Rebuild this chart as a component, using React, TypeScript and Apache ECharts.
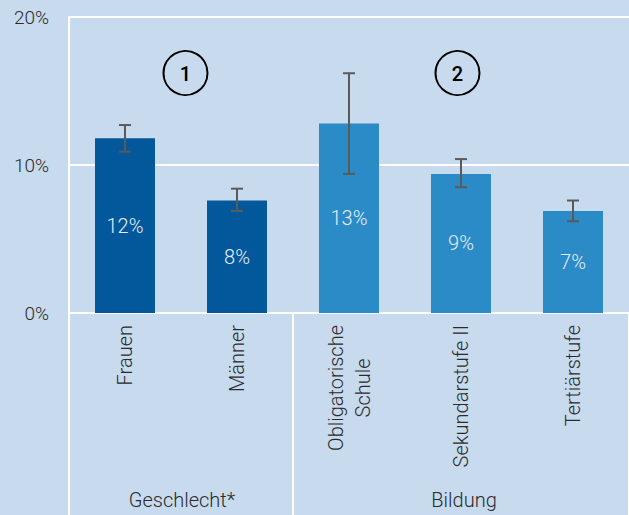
import React, { useEffect, useRef } from "react";
import * as echarts from "echarts";

const categories = ["Frauen", "Männer", "Obligatorische\nSchule", "Sekundarstufe II", "Tertiärstufe"];
const values = [11.8, 7.6, 12.8, 9.4, 6.9];
const labels = ["12%", "8%", "13%", "9%", "7%"];
const errLow = [10.9, 6.9, 9.4, 8.5, 6.2];
const errHigh = [12.7, 8.4, 16.2, 10.4, 7.6];
const barColors = ["#02589a", "#02589a", "#2b8bc7", "#2b8bc7", "#2b8bc7"];
const groupLabels = ["Geschlecht*", "Bildung"];
const markers = ["1", "2"];
const yTicks = { min: 0, max: 20, interval: 10 };

const BG = "#c8dbee";
const FONT = "Roboto";

export default function App() {
  const ref = useRef<HTMLDivElement>(null);
  useEffect(() => {
    if (!ref.current) return;
    const chart = echarts.init(ref.current, undefined, { renderer: "svg" });
    const option: any = {
      animation: false,
      backgroundColor: BG,
      textStyle: { fontFamily: FONT },
      grid: { left: 69, top: 17, width: 565, bottom: 202, containLabel: false },
      xAxis: {
        type: "category",
        data: categories,
        axisLine: { show: true, lineStyle: { color: "#ffffff", width: 2 } },
        axisTick: {
          show: true,
          interval: (i: number) => i === 0 || i === 2,
          length: 205,
          lineStyle: { color: "#ffffff", width: 2 },
        },
        axisLabel: {
          rotate: 90,
          margin: 12,
          interval: 0,
          color: "#2a2a2a",
          fontSize: 20,
          fontWeight: 300,
          fontFamily: FONT,
          lineHeight: 27,
          formatter: (v: string) =>
            v
              .split("\n")
              .map((s) => "{c|" + s + "}")
              .join("\n"),
          rich: {
            c: { align: "center", fontSize: 20, fontWeight: 300, color: "#2a2a2a", fontFamily: FONT, lineHeight: 27 },
          },
        },
      },
      yAxis: {
        type: "value",
        min: yTicks.min,
        max: yTicks.max,
        interval: yTicks.interval,
        axisLine: { show: true, lineStyle: { color: "#ffffff", width: 2 } },
        axisTick: { show: false },
        splitLine: { show: true, lineStyle: { color: "#ffffff", width: 2 } },
        axisLabel: {
          formatter: "{value}%",
          color: "#2a2a2a",
          fontSize: 19,
          fontWeight: 300,
          fontFamily: FONT,
          margin: 20,
        },
      },
      series: [
        {
          type: "bar",
          barWidth: 60,
          data: values.map((v, i) => ({ value: v, itemStyle: { color: barColors[i] } })),
          label: {
            show: true,
            position: "inside",
            formatter: (p: any) => labels[p.dataIndex],
            color: "#e3edf8",
            fontSize: 20,
            fontWeight: 300,
            fontFamily: FONT,
          },
          z: 2,
        },
        {
          type: "custom",
          z: 3,
          data: errLow.map((lo, i) => [i, lo, errHigh[i]]),
          renderItem: (params: any, api: any) => {
            const x = api.value(0);
            const lo = api.coord([x, api.value(1)]);
            const hi = api.coord([x, api.value(2)]);
            const cap = 6;
            const style = { stroke: "#5a5a5a", lineWidth: 2 };
            return {
              type: "group",
              children: [
                { type: "line", shape: { x1: hi[0], y1: hi[1], x2: lo[0], y2: lo[1] }, style },
                { type: "line", shape: { x1: hi[0] - cap, y1: hi[1], x2: hi[0] + cap, y2: hi[1] }, style },
                { type: "line", shape: { x1: lo[0] - cap, y1: lo[1], x2: lo[0] + cap, y2: lo[1] }, style },
              ],
            };
          },
        },
      ],
      graphic: [
        { type: "circle", shape: { cx: 185.5, cy: 73, r: 22 }, style: { fill: "none", stroke: "#000", lineWidth: 2 } },
        { type: "circle", shape: { cx: 457.5, cy: 73, r: 22 }, style: { fill: "none", stroke: "#000", lineWidth: 2 } },
        {
          type: "text",
          x: 185.5,
          y: 74,
          style: { text: markers[0], fill: "#000", fontSize: 20, fontWeight: 500, fontFamily: FONT, align: "center", verticalAlign: "middle" },
        },
        {
          type: "text",
          x: 457.5,
          y: 74,
          style: { text: markers[1], fill: "#000", fontSize: 20, fontWeight: 500, fontFamily: FONT, align: "center", verticalAlign: "middle" },
        },
        {
          type: "text",
          x: 182,
          y: 500,
          style: { text: groupLabels[0], fill: "#2a2a2a", fontSize: 20, fontWeight: 300, fontFamily: FONT, align: "center", verticalAlign: "middle" },
        },
        {
          type: "text",
          x: 464,
          y: 500,
          style: { text: groupLabels[1], fill: "#2a2a2a", fontSize: 20, fontWeight: 300, fontFamily: FONT, align: "center", verticalAlign: "middle" },
        },
      ],
    };
    chart.setOption(option);
    return () => chart.dispose();
  }, []);
  return <div ref={ref} style={{ width: 629, height: 515, position: "absolute", left: 0, top: 0 }} />;
}
